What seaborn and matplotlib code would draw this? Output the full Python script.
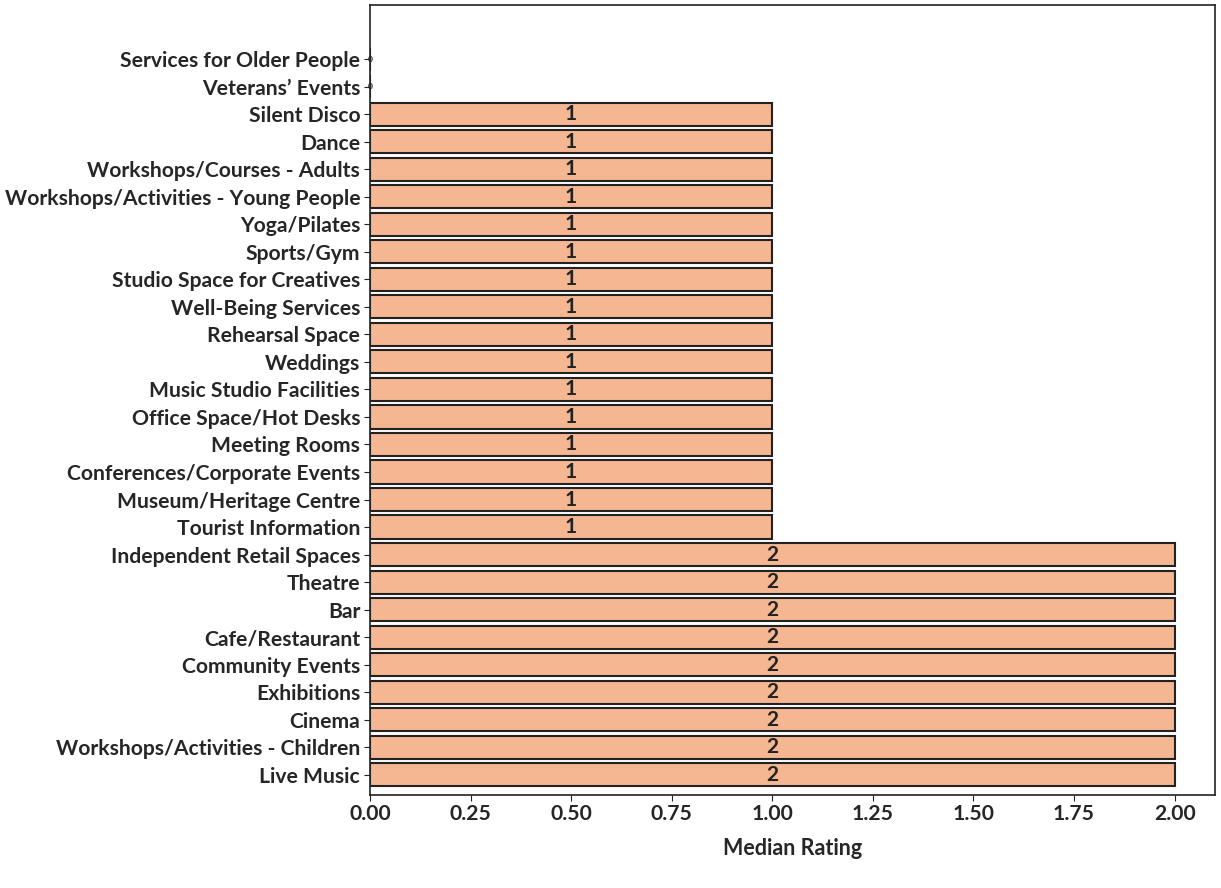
import seaborn as sns
import matplotlib.pyplot as plt
import pandas as pd

# categories top to bottom and their median rating
servicios = ['Services for Older People', "Veterans\u2019 Events", 'Silent Disco', 'Dance',
             'Workshops/Courses - Adults', 'Workshops/Activities - Young People', 'Yoga/Pilates',
             'Sports/Gym', 'Studio Space for Creatives', 'Well-Being Services', 'Rehearsal Space',
             'Weddings', 'Music Studio Facilities', 'Office Space/Hot Desks', 'Meeting Rooms',
             'Conferences/Corporate Events', 'Museum/Heritage Centre', 'Tourist Information',
             'Independent Retail Spaces', 'Theatre', 'Bar', 'Cafe/Restaurant', 'Community Events',
             'Exhibitions', 'Cinema', 'Workshops/Activities - Children', 'Live Music']
medianas = [0, 0, 1, 1, 1, 1, 1, 1, 1, 1, 1, 1, 1, 1, 1, 1, 1, 1,
            2, 2, 2, 2, 2, 2, 2, 2, 2]

df = pd.DataFrame({'servicio': servicios, 'mediana': medianas})

sns.set_style('white')
plt.rcParams['font.family'] = ['Lato', 'DejaVu Sans']
plt.rcParams['font.weight'] = 'bold'

fig, ax = plt.subplots(figsize=(12.21, 8.88), dpi=100)
fig.subplots_adjust(left=0.303, right=0.995, top=0.994, bottom=0.105)

sns.barplot(data=df, x='mediana', y='servicio', order=servicios, color='#F5B692',
            edgecolor='#222222', linewidth=1.5, width=0.84, saturation=1, ax=ax)

for cont in ax.containers:
    # normal labels for rated bars
    etiquetas = ['' if v == 0 else str(int(v)) for v in cont.datavalues]
    ax.bar_label(cont, labels=etiquetas, label_type='center', fontsize=15,
                 fontweight='bold', color='#222222')
    # zero bars: the label shows up as a tiny mark on the axis
    ceros = ['0' if v == 0 else '' for v in cont.datavalues]
    ax.bar_label(cont, labels=ceros, label_type='center', fontsize=6, color='#222222')

ax.set_xlim(0, 2.1)
ax.set_ylim(26.73, -1.96)
ax.set_xticks([0, 0.25, 0.5, 0.75, 1.0, 1.25, 1.5, 1.75, 2.0])
ax.set_xticklabels(['0.00', '0.25', '0.50', '0.75', '1.00', '1.25', '1.50', '1.75', '2.00'])
ax.tick_params(axis='both', labelsize=15.2, length=4, pad=3, left=True, bottom=True, color='#222222')
ax.set_xlabel('Median Rating', fontsize=15.5, fontweight='bold', labelpad=10)
ax.set_ylabel('')
for sp in ax.spines.values():
    sp.set_color('#222222')
    sp.set_linewidth(1.2)

plt.savefig('out.png', dpi=100)
